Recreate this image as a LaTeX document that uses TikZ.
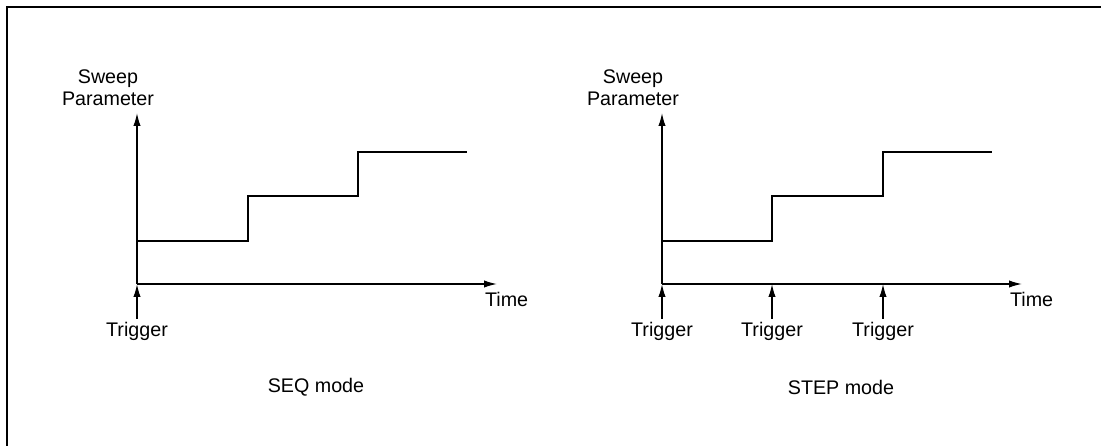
\documentclass[tikz,border=0pt]{standalone}
\usepackage{fontspec}
\setmainfont{Liberation Sans}
\usetikzlibrary{arrows.meta}

\tikzset{
  axis/.style={-{Latex[length=3.2mm, width=1.8mm]}, line width=1pt},
  sweep/.style={line width=1pt},
  lbl/.style={font=\fontsize{14}{15.6}\selectfont, inner sep=2pt}
}

\begin{document}
\begin{tikzpicture}[x=0.025cm, y=-0.025cm]
  \useasboundingbox (0,0) rectangle (1101,446);
  \draw[line width=1.4pt] (1101,7) -- (7,7) -- (7,446);

  % SEQ mode
  \coordinate (oA) at (137,284);
  \coordinate (yA) at (137,113);
  \coordinate (xA) at (497,284);
  \draw[axis] (oA) -- (yA);
  \draw[axis] (oA) -- (xA);
  \draw[sweep] (137,241) -- (248,241) -- (248,196) -- (358,196) -- (358,152) -- (467,152);
  \node[lbl, align=center, anchor=south] (parA) at (108,109) {Sweep\\Parameter};
  \node[lbl, anchor=north west] (timeA) at (482,289) {Time};
  \node[lbl, anchor=north] (trigA) at (137,319) {Trigger};
  \draw[axis] (trigA) -- (oA);
  \node[lbl] (modeA) at (316,387) {SEQ mode};

  % STEP mode
  \coordinate (oB) at (662,284);
  \coordinate (yB) at (662,113);
  \coordinate (xB) at (1022,284);
  \draw[axis] (oB) -- (yB);
  \draw[axis] (oB) -- (xB);
  \draw[sweep] (662,241) -- (772,241) -- (772,196) -- (883,196) -- (883,152) -- (992,152);
  \node[lbl, align=center, anchor=south] (parB) at (633,109) {Sweep\\Parameter};
  \node[lbl, anchor=north west] (timeB) at (1007,289) {Time};
  \foreach \x [count=\i] in {662,772,883} {
    \coordinate (tB\i) at (\x,284);
    \node[lbl, anchor=north] (trigB\i) at (\x,319) {Trigger};
    \draw[axis] (trigB\i) -- (tB\i);
  }
  \node[lbl] (modeB) at (841,387) {STEP mode};
\end{tikzpicture}
\end{document}
